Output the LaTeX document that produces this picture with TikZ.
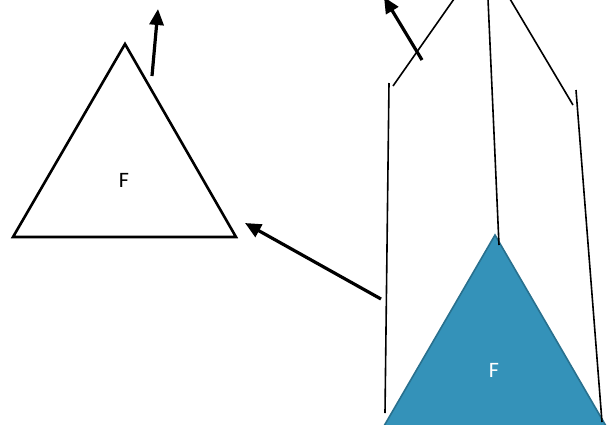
\documentclass[tikz,border=0pt]{standalone}
\usepackage{fontspec}
\setmainfont{Carlito}
\usetikzlibrary{arrows.meta,positioning,calc}
\definecolor{facetblue}{RGB}{52,146,185}
\definecolor{facetedge}{RGB}{40,112,142}
\newcommand{\facelabel}{\fontsize{22}{26}\selectfont F}

\begin{document}
\begin{tikzpicture}[x=1pt,y=-1pt,
    thinline/.style={line width=1.6pt},
    push/.style={-{Triangle[length=16pt,width=14pt]},line width=3.2pt}]
  \useasboundingbox (0,0) rectangle (608,424);
  \begin{scope}
    \clip (0,0) rectangle (608,424);
    % white triangle
    \coordinate (wa) at (125,44);
    \coordinate (wl) at (13,237);
    \coordinate (wr) at (236,237);
    \draw[line width=2.6pt,line join=miter] (wa)--(wl)--(wr)--cycle;
    \node (wf) at (124,180) {\facelabel};
    % blue triangle
    \coordinate (ba) at (495,235);
    \coordinate (bl) at (384,426);
    \coordinate (br) at (606,426);
    \draw[fill=facetblue,draw=facetedge,line width=1.6pt] (ba)--(bl)--(br)--cycle;
    \node[text=white] (bf) at (494,370) {\facelabel};
    % thin lines
    \coordinate (l1a) at (389,83);  \coordinate (l1b) at (385,413);
    \coordinate (l2a) at (393,86);  \coordinate (l2b) at (454,-1);
    \coordinate (l3a) at (488,-1);  \coordinate (l3b) at (499,245);
    \coordinate (l4a) at (510,-1);  \coordinate (l4b) at (573,105);
    \coordinate (l5a) at (576,90);  \coordinate (l5b) at (602,422);
    \foreach \s/\e in {l1a/l1b,l2a/l2b,l3a/l3b,l4a/l4b,l5a/l5b}
      \draw[thinline] (\s)--(\e);
    % arrows
    \coordinate (p1) at (152,76);   \coordinate (q1) at (158,9);
    \coordinate (p2) at (381,299);  \coordinate (q2) at (245,223);
    \coordinate (p3) at (422,60);   \coordinate (q3) at (384,-3);
    \draw[push] (p1)--(q1);
    \draw[push] (p2)--(q2);
    \draw[push] (p3)--(q3);
  \end{scope}
\end{tikzpicture}
\end{document}
